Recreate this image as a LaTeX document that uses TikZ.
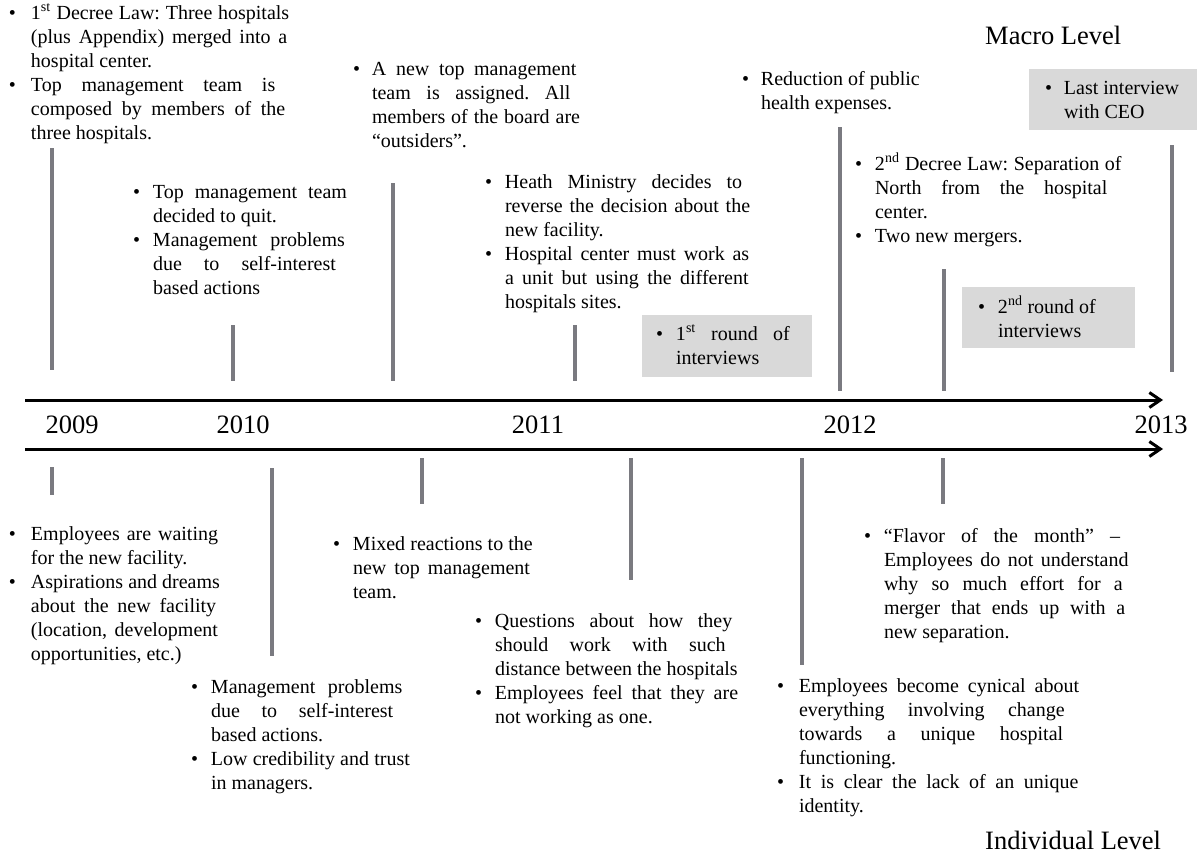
\documentclass[tikz,border=0pt]{standalone}
\usepackage{fontspec}
\setmainfont{Liberation Serif}
\usetikzlibrary{arrows.meta}
\definecolor{tickgray}{RGB}{122,122,128}
\definecolor{boxgray}{RGB}{217,217,217}
\newcommand{\tlsetup}{\spaceskip=5pt plus 40pt minus 0.5pt\xspaceskip=\spaceskip\hyphenpenalty=10000\exhyphenpenalty=10000\tolerance=9999\parindent=0pt}
\newcommand{\bitem}[2][20pt]{\noindent\hangindent=#1\hangafter=1\makebox[#1][l]{\textbullet}#2\par}
\tikzset{
  txt/.style={anchor=base west, inner sep=0pt, outer sep=0pt,
    font=\fontsize{20}{24}\selectfont, text width=#1,
    execute at begin node=\tlsetup},
  year/.style={anchor=base, inner sep=0pt, font=\fontsize{26.5}{30}\selectfont},
  level/.style={anchor=base west, inner sep=0pt, font=\fontsize{26.5}{30}\selectfont},
  tick/.style={line width=3.5pt, draw=tickgray},
  axis/.style={line width=3pt, -{Straight Barb[length=11pt,width=15pt]}},
  greybox/.style={fill=boxgray}
}
\begin{document}
\begin{tikzpicture}[x=1pt,y=-1pt]
\useasboundingbox (0,0) rectangle (1200,854);

% grey boxes
\fill[greybox] (642,315) rectangle (812,377);
\fill[greybox] (962,287) rectangle (1135,348);
\fill[greybox] (1029,69) rectangle (1197,130);

% axes
\coordinate (a1s) at (25,400);
\coordinate (a1e) at (1163,400);
\coordinate (a2s) at (25,449);
\coordinate (a2e) at (1163,449);
\draw[axis] (a1s) -- (a1e);
\draw[axis] (a2s) -- (a2e);

% years
\node[year] (y2009) at (72,433) {2009};
\node[year] (y2010) at (243,433) {2010};
\node[year] (y2011) at (538,433) {2011};
\node[year] (y2012) at (850,433) {2012};
\node[year] (y2013) at (1161,433) {2013};

% level labels
\node[level] (macro) at (985,44) {Macro Level};
\node[level] (indiv) at (985,849) {Individual Level};

% top ticks
\draw[tick] (52,148) -- (52,370);
\draw[tick] (233,325) -- (233,381);
\draw[tick] (393,183) -- (393,381);
\draw[tick] (575,325) -- (575,381);
\draw[tick] (840,127) -- (840,391);
\draw[tick] (944,269) -- (944,391);
\draw[tick] (1172,145) -- (1172,372);

% bottom ticks
\draw[tick] (52,467) -- (52,495);
\draw[tick] (272,468) -- (272,656);
\draw[tick] (422,458) -- (422,504);
\draw[tick] (631,458) -- (631,580);
\draw[tick] (802,458) -- (802,665);
\draw[tick] (943,458) -- (943,504);

% top texts
\node[txt=281pt] (tA) at (9,19) {%
\bitem[22pt]{1\textsuperscript{st} Decree Law: Three hospitals\linebreak (plus Appendix) merged into a\linebreak hospital center.}%
\bitem[22pt]{Top management team is\linebreak composed by members of the\linebreak three hospitals.}};

\node[txt=220pt] (tB) at (133,198) {%
\bitem{Top management team\linebreak decided to quit.}%
\bitem{Management problems\linebreak due to self-interest\linebreak based actions}};

\node[txt=228pt] (tC) at (353,75) {%
\bitem[19pt]{A new top management\linebreak team is assigned. All\linebreak members of the board are\linebreak “outsiders”.}};

\node[txt=267pt] (tD) at (485,188) {%
\bitem{Heath Ministry decides to\linebreak reverse the decision about the\linebreak new facility.}%
\bitem{Hospital center must work as\linebreak a unit but using the different\linebreak hospitals sites.}};

\node[txt=144pt] (tBox1) at (656,340) {%
\bitem{1\textsuperscript{st} round of\linebreak interviews}};

\node[txt=190pt] (tE) at (742,85) {%
\bitem[19pt]{Reduction of public\newline health expenses.}};

\node[txt=267pt] (tF) at (855,170) {%
\bitem{2\textsuperscript{nd} Decree Law: Separation of\linebreak North from the hospital\linebreak center.}%
\bitem{Two new mergers.}};

\node[txt=150pt] (tBox2) at (978,313) {%
\bitem{2\textsuperscript{nd} round of\newline interviews}};

\node[txt=150pt] (tBox3) at (1045,94) {%
\bitem[19pt]{Last interview\newline with CEO}};

% bottom texts
\node[txt=211pt] (tG) at (9,540) {%
\bitem[22pt]{Employees are waiting\linebreak for the new facility.}%
\bitem[22pt]{Aspirations and dreams\linebreak about the new facility\linebreak (location, development\linebreak opportunities, etc.)}};

\node[txt=219pt] (tH) at (191,693) {%
\bitem{Management problems\linebreak due to self-interest\linebreak based actions.}%
\bitem{Low credibility and trust\linebreak in managers.}};

\node[txt=200pt] (tI) at (333,550) {%
\bitem{Mixed reactions to the\linebreak new top management\linebreak team.}};

\node[txt=267pt] (tJ) at (475,627) {%
\bitem{Questions about how they\linebreak should work with such\linebreak distance between the hospitals}%
\bitem{Employees feel that they are\linebreak not working as one.}};

\node[txt=267pt] (tK) at (864,542) {%
\bitem{“Flavor of the month” –\linebreak Employees do not understand\linebreak why so much effort for a\linebreak merger that ends up with a\linebreak new separation.}};

\node[txt=306pt] (tL) at (777,692) {%
\bitem[22pt]{Employees become cynical about\linebreak everything involving change\linebreak towards a unique hospital\linebreak functioning.}%
\bitem[22pt]{It is clear the lack of an unique\linebreak identity.}};
\end{tikzpicture}
\end{document}
